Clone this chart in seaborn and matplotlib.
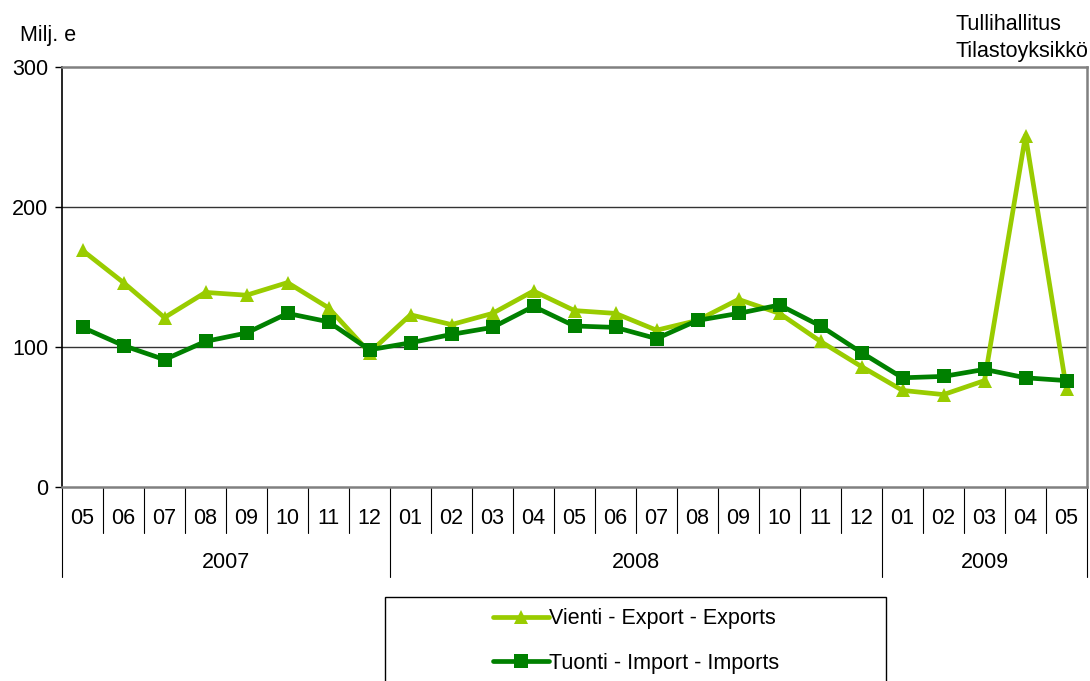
import matplotlib.pyplot as plt
import matplotlib.transforms as mtransforms
from matplotlib.patches import Rectangle
import seaborn as sns
import pandas as pd

months = ['05', '06', '07', '08', '09', '10', '11', '12',
          '01', '02', '03', '04', '05', '06', '07', '08', '09', '10', '11', '12',
          '01', '02', '03', '04', '05']
years = ['2007', '2008', '2009']
year_spans = [(0, 8), (8, 20), (20, 25)]

exports = [169, 146, 121, 139, 137, 146, 128, 96,
           123, 116, 124, 140, 126, 124, 112, 119, 134, 124, 104, 86,
           69, 66, 76, 251, 70]
imports = [114, 101, 91, 104, 110, 124, 118, 98,
           103, 109, 114, 129, 115, 114, 106, 119, 124, 130, 115, 96,
           78, 79, 84, 78, 76]

exp_label = 'Vienti - Export - Exports'
imp_label = 'Tuonti - Import - Imports'

df = pd.DataFrame({
    'idx': list(range(len(months))) * 2,
    'value': exports + imports,
    'series': [exp_label] * len(exports) + [imp_label] * len(imports),
})

FS = 15.5

sns.set_style('white')
plt.rcParams['font.family'] = ['Liberation Sans', 'DejaVu Sans']
plt.rcParams['font.size'] = FS
plt.rcParams['text.color'] = 'black'
plt.rcParams['ytick.color'] = 'black'
plt.rcParams['ytick.labelcolor'] = 'black'

fig = plt.figure(figsize=(10.9, 6.81), dpi=100)
ax = fig.add_axes([62 / 1090, 1 - 487 / 681, 1025 / 1090, 420 / 681])

sns.lineplot(data=df, x='idx', y='value', hue='series', style='series',
             palette={exp_label: '#99cc00', imp_label: '#008000'},
             markers={exp_label: '^', imp_label: 's'}, dashes=False,
             linewidth=3.4, markersize=10.5, markeredgewidth=0, ax=ax)

ax.set_xlim(-0.5, len(months) - 0.5)
ax.set_ylim(0, 300)
ax.set_yticks([0, 100, 200, 300])
ax.set_yticklabels(['0', '100', '200', '300'], fontsize=FS, color='black')
ax.tick_params(axis='y', length=5, width=1, color='black', pad=5, left=True)
ax.set_xticks([])
ax.set_xlabel('')
ax.set_ylabel('')

for y in [100, 200]:
    ax.axhline(y, color='#333333', linewidth=1, zorder=0)

ax.spines['left'].set_color('black')
ax.spines['left'].set_linewidth(1.2)
for s in ['top', 'right', 'bottom']:
    ax.spines[s].set_color('#808080')
    ax.spines[s].set_linewidth(1.8)

# category axis: month cells and year groups
trans = mtransforms.blended_transform_factory(ax.transData, ax.transAxes)
month_h = (533 - 487) / 420
year_h = (577 - 487) / 420
year_edges = {0, 8, 20, 25}
for k in range(len(months) + 1):
    bottom = -year_h if k in year_edges else -month_h
    ax.plot([k - 0.5, k - 0.5], [0, bottom], color='black', linewidth=0.8,
            transform=trans, clip_on=False)
for i, m in enumerate(months):
    ax.text(i, -(519 - 487) / 420, m, transform=trans, ha='center', va='center', fontsize=FS)
for yr, (a, b) in zip(years, year_spans):
    ax.text((a + b - 1) / 2, -(562 - 487) / 420, yr, transform=trans,
            ha='center', va='center', fontsize=FS)

fig.text(20 / 1090, 1 - 35 / 681, 'Milj. e', ha='left', va='center', fontsize=FS)
fig.text(955 / 1090, 1 - 24 / 681, 'Tullihallitus', ha='left', va='center', fontsize=FS)
fig.text(955 / 1090, 1 - 52 / 681, 'Tilastoyksikkö', ha='left', va='center', fontsize=FS)

# legend box
fig.patches.append(Rectangle((385 / 1090, -0.02), 501 / 1090, 0.02 + 84 / 681,
                             transform=fig.transFigure, facecolor='white',
                             edgecolor='black', linewidth=1))
handles, labels = ax.get_legend_handles_labels()
ax.get_legend().remove()
fig.legend(handles, labels, loc='center left', frameon=False,
           bbox_to_anchor=(474 / 1090, 1 - 641 / 681), handlelength=2.6,
           handletextpad=0.0, labelspacing=1.1, fontsize=FS)

fig.savefig('out.png', dpi=100)
